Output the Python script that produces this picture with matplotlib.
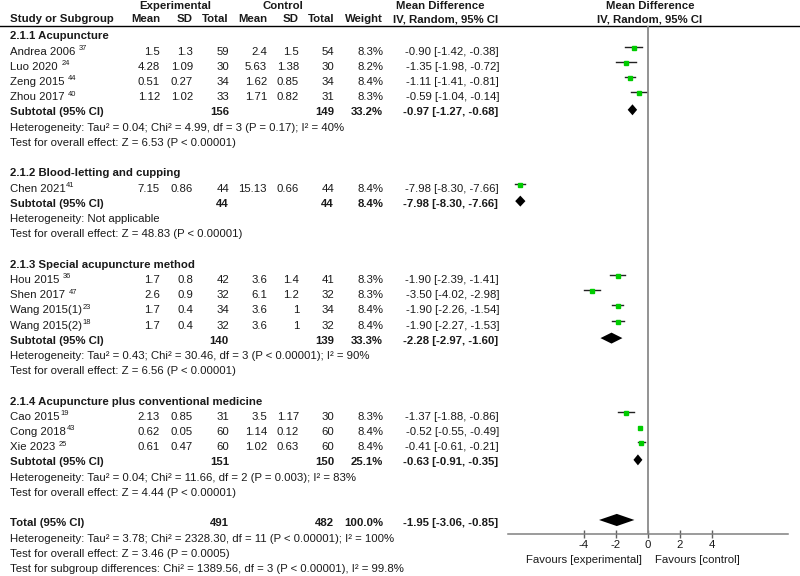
import matplotlib
matplotlib.use("Agg")
import matplotlib.pyplot as plt

plt.rcParams['font.family'] = ['Liberation Sans', 'DejaVu Sans']

# ---- data ----
studies = ["Andrea 2006 ", "Luo 2020 ", "Zeng 2015 ", "Zhou 2017 ",
           "Chen 2021",
           "Hou 2015 ", "Shen 2017 ", "Wang 2015(1)", "Wang 2015(2)",
           "Cao 2015", "Cong 2018", "Xie 2023 "]
refs = ["37", "24", "44", "40", "41", "36", "47", "23", "18", "19", "43", "25"]
exp_mean = [1.5, 4.28, 0.51, 1.12, 7.15, 1.7, 2.6, 1.7, 1.7, 2.13, 0.62, 0.61]
exp_sd = [1.3, 1.09, 0.27, 1.02, 0.86, 0.8, 0.9, 0.4, 0.4, 0.85, 0.05, 0.47]
exp_n = [59, 30, 34, 33, 44, 42, 32, 34, 32, 31, 60, 60]
ctl_mean = [2.4, 5.63, 1.62, 1.71, 15.13, 3.6, 6.1, 3.6, 3.6, 3.5, 1.14, 1.02]
ctl_sd = [1.5, 1.38, 0.85, 0.82, 0.66, 1.4, 1.2, 1, 1, 1.17, 0.12, 0.63]
ctl_n = [54, 30, 34, 31, 44, 41, 32, 34, 32, 30, 60, 60]
weights = [8.3, 8.2, 8.4, 8.3, 8.4, 8.3, 8.3, 8.4, 8.4, 8.3, 8.4, 8.4]
md = [-0.90, -1.35, -1.11, -0.59, -7.98, -1.90, -3.50, -1.90, -1.90, -1.37, -0.52, -0.41]
ci_lo = [-1.42, -1.98, -1.41, -1.04, -8.30, -2.39, -4.02, -2.26, -2.27, -1.88, -0.55, -0.61]
ci_hi = [-0.38, -0.72, -0.81, -0.14, -7.66, -1.41, -2.98, -1.54, -1.53, -0.86, -0.49, -0.21]

groups = ["2.1.1 Acupuncture", "2.1.2 Blood-letting and cupping",
          "2.1.3 Special acupuncture method",
          "2.1.4 Acupuncture plus conventional medicine"]
group_size = [4, 1, 4, 3]
sub_exp_n = [156, 44, 140, 151]
sub_ctl_n = [149, 44, 139, 150]
sub_weight = [33.2, 8.4, 33.3, 25.1]
sub_md = [-0.97, -7.98, -2.28, -0.63]
sub_lo = [-1.27, -8.30, -2.97, -0.91]
sub_hi = [-0.68, -7.66, -1.60, -0.35]
sub_het = ["Heterogeneity: Tau² = 0.04; Chi² = 4.99, df = 3 (P = 0.17); I² = 40%",
           "Heterogeneity: Not applicable",
           "Heterogeneity: Tau² = 0.43; Chi² = 30.46, df = 3 (P < 0.00001); I² = 90%",
           "Heterogeneity: Tau² = 0.04; Chi² = 11.66, df = 2 (P = 0.003); I² = 83%"]
sub_test = ["Test for overall effect: Z = 6.53 (P < 0.00001)",
            "Test for overall effect: Z = 48.83 (P < 0.00001)",
            "Test for overall effect: Z = 6.56 (P < 0.00001)",
            "Test for overall effect: Z = 4.44 (P < 0.00001)"]

total_exp_n = 491
total_ctl_n = 482
total_md, total_lo, total_hi = -1.95, -3.06, -0.85
total_het = "Heterogeneity: Tau² = 3.78; Chi² = 2328.30, df = 11 (P < 0.00001); I² = 100%"
total_test = "Test for overall effect: Z = 3.46 (P = 0.0005)"
subgroup_test = "Test for subgroup differences: Chi² = 1389.56, df = 3 (P < 0.00001), I² = 99.8%"

xticks = [-4, -2, 0, 2, 4]

# ---- layout (pixels) ----
W, H = 800, 576
row_h = 15.22
top_px = 20
fs = 8.2
base_off = 0.27  # text baseline below the row centre, in rows
txt = '#1a1a1a'
x_study, x_em, x_es, x_en, x_cm, x_cs, x_cn, x_w, x_md = 10, 160, 193, 229, 267, 299, 334, 383, 499

fig = plt.figure(figsize=(8, 5.76), dpi=100)
ax = fig.add_axes([0, 0, 1, 1])
ax.set_xlim(0, W)
ax.set_ylim((H - top_px) / row_h, -top_px / row_h)
ax.axis('off')
renderer = fig.canvas.get_renderer()


def t(x, y, s, ha='left', bold=False, size=fs, **kw):
    return ax.text(x, y + base_off, s, ha=ha, va='baseline', fontsize=size, color=txt,
                   fontweight='bold' if bold else 'normal', **kw)


def fmt_ci(m, lo, hi):
    return f"{m:.2f} [{lo:.2f}, {hi:.2f}]"


def study_label(y, name, ref):
    tx = t(x_study, y, name)
    bb = tx.get_window_extent(renderer)
    x_end = ax.transData.inverted().transform((bb.x1, bb.y0))[0]
    t(x_end + 0.5, y - 0.3, ref, size=5.4)


# headers
h1, h2 = -1.0, -0.12
t(175, h1, "Experimental", ha='center', bold=True)
t(283, h1, "Control", ha='center', bold=True)
t(440, h1, "Mean Difference", ha='center', bold=True)
t(650, h1, "Mean Difference", ha='center', bold=True)
t(x_study, h2, "Study or Subgroup", bold=True)
for x, s in [(x_em, "Mean"), (x_es, "SD"), (x_en, "Total"), (x_cm, "Mean"),
             (x_cs, "SD"), (x_cn, "Total"), (x_w, "Weight")]:
    t(x, h2, s, ha='right', bold=True)
t(446, h2, "IV, Random, 95% CI", ha='center', bold=True)
t(650, h2, "IV, Random, 95% CI", ha='center', bold=True)
ax.axhline((25.5 - top_px) / row_h, color='black', lw=1.0)

# forest axes
y_axis_px = 534
fax = fig.add_axes([508 / W, (H - y_axis_px) / H, 280 / W, (y_axis_px - 26) / H])
fax.set_xlim(-8.75, 8.75)
fax.set_ylim((y_axis_px - top_px) / row_h, (26 - top_px) / row_h)
fax.patch.set_alpha(0)
for sp in ['top', 'left', 'right']:
    fax.spines[sp].set_visible(False)
fax.spines['bottom'].set_color('#808080')
fax.spines['bottom'].set_linewidth(1.1)
fax.set_yticks([])
fax.set_xticks(xticks)
fax.set_xticklabels([str(v) for v in xticks])
fax.tick_params(axis='x', direction='inout', length=6, width=1.0, color='#606060',
                labelsize=fs, labelcolor=txt, pad=1)
fax.axvline(0, color='#8a8a8a', lw=1.3)


def diamond(y, m, lo, hi, h=0.36):
    fax.fill([lo, m, hi, m], [y, y - h, y, y + h], color='black', lw=0)


row = 1
k = 0
for g in range(len(groups)):
    t(x_study, row, groups[g], bold=True)
    row += 1
    for _ in range(group_size[g]):
        study_label(row, studies[k], refs[k])
        t(x_em, row, f"{exp_mean[k]:g}", ha='right')
        t(x_es, row, f"{exp_sd[k]:g}", ha='right')
        t(x_en, row, str(exp_n[k]), ha='right')
        t(x_cm, row, f"{ctl_mean[k]:g}", ha='right')
        t(x_cs, row, f"{ctl_sd[k]:g}", ha='right')
        t(x_cn, row, str(ctl_n[k]), ha='right')
        t(x_w, row, f"{weights[k]:.1f}%", ha='right')
        t(x_md, row, fmt_ci(md[k], ci_lo[k], ci_hi[k]), ha='right')
        fax.plot([ci_lo[k], ci_hi[k]], [row - 0.25, row - 0.25], color='#222222', lw=1.0)
        fax.plot(md[k], row - 0.18, marker='s', ms=3.0, color='#00cc00', mec='#00cc00')
        k += 1
        row += 1
    t(x_study, row, "Subtotal (95% CI)", bold=True)
    t(x_en, row, str(sub_exp_n[g]), ha='right', bold=True)
    t(x_cn, row, str(sub_ctl_n[g]), ha='right', bold=True)
    t(x_w, row, f"{sub_weight[g]:.1f}%", ha='right', bold=True)
    t(x_md - 1, row, fmt_ci(sub_md[g], sub_lo[g], sub_hi[g]), ha='right', bold=True)
    diamond(row - 0.1, sub_md[g], sub_lo[g], sub_hi[g])
    row += 1
    t(x_study, row, sub_het[g])
    row += 1
    t(x_study, row, sub_test[g])
    row += 2

t(x_study, row, "Total (95% CI)", bold=True)
t(x_en, row, str(total_exp_n), ha='right', bold=True)
t(x_cn, row, str(total_ctl_n), ha='right', bold=True)
t(x_w, row, "100.0%", ha='right', bold=True)
t(x_md - 1, row, fmt_ci(total_md, total_lo, total_hi), ha='right', bold=True)
diamond(row - 0.15, total_md, total_lo, total_hi, h=0.4)
t(x_study, row + 1, total_het)
t(x_study, row + 2, total_test)
t(x_study, row + 3, subgroup_test)

t(642, (559 - top_px) / row_h, "Favours [experimental]", ha='right')
t(655, (559 - top_px) / row_h, "Favours [control]", ha='left')

fig.savefig("out.png", dpi=100)
